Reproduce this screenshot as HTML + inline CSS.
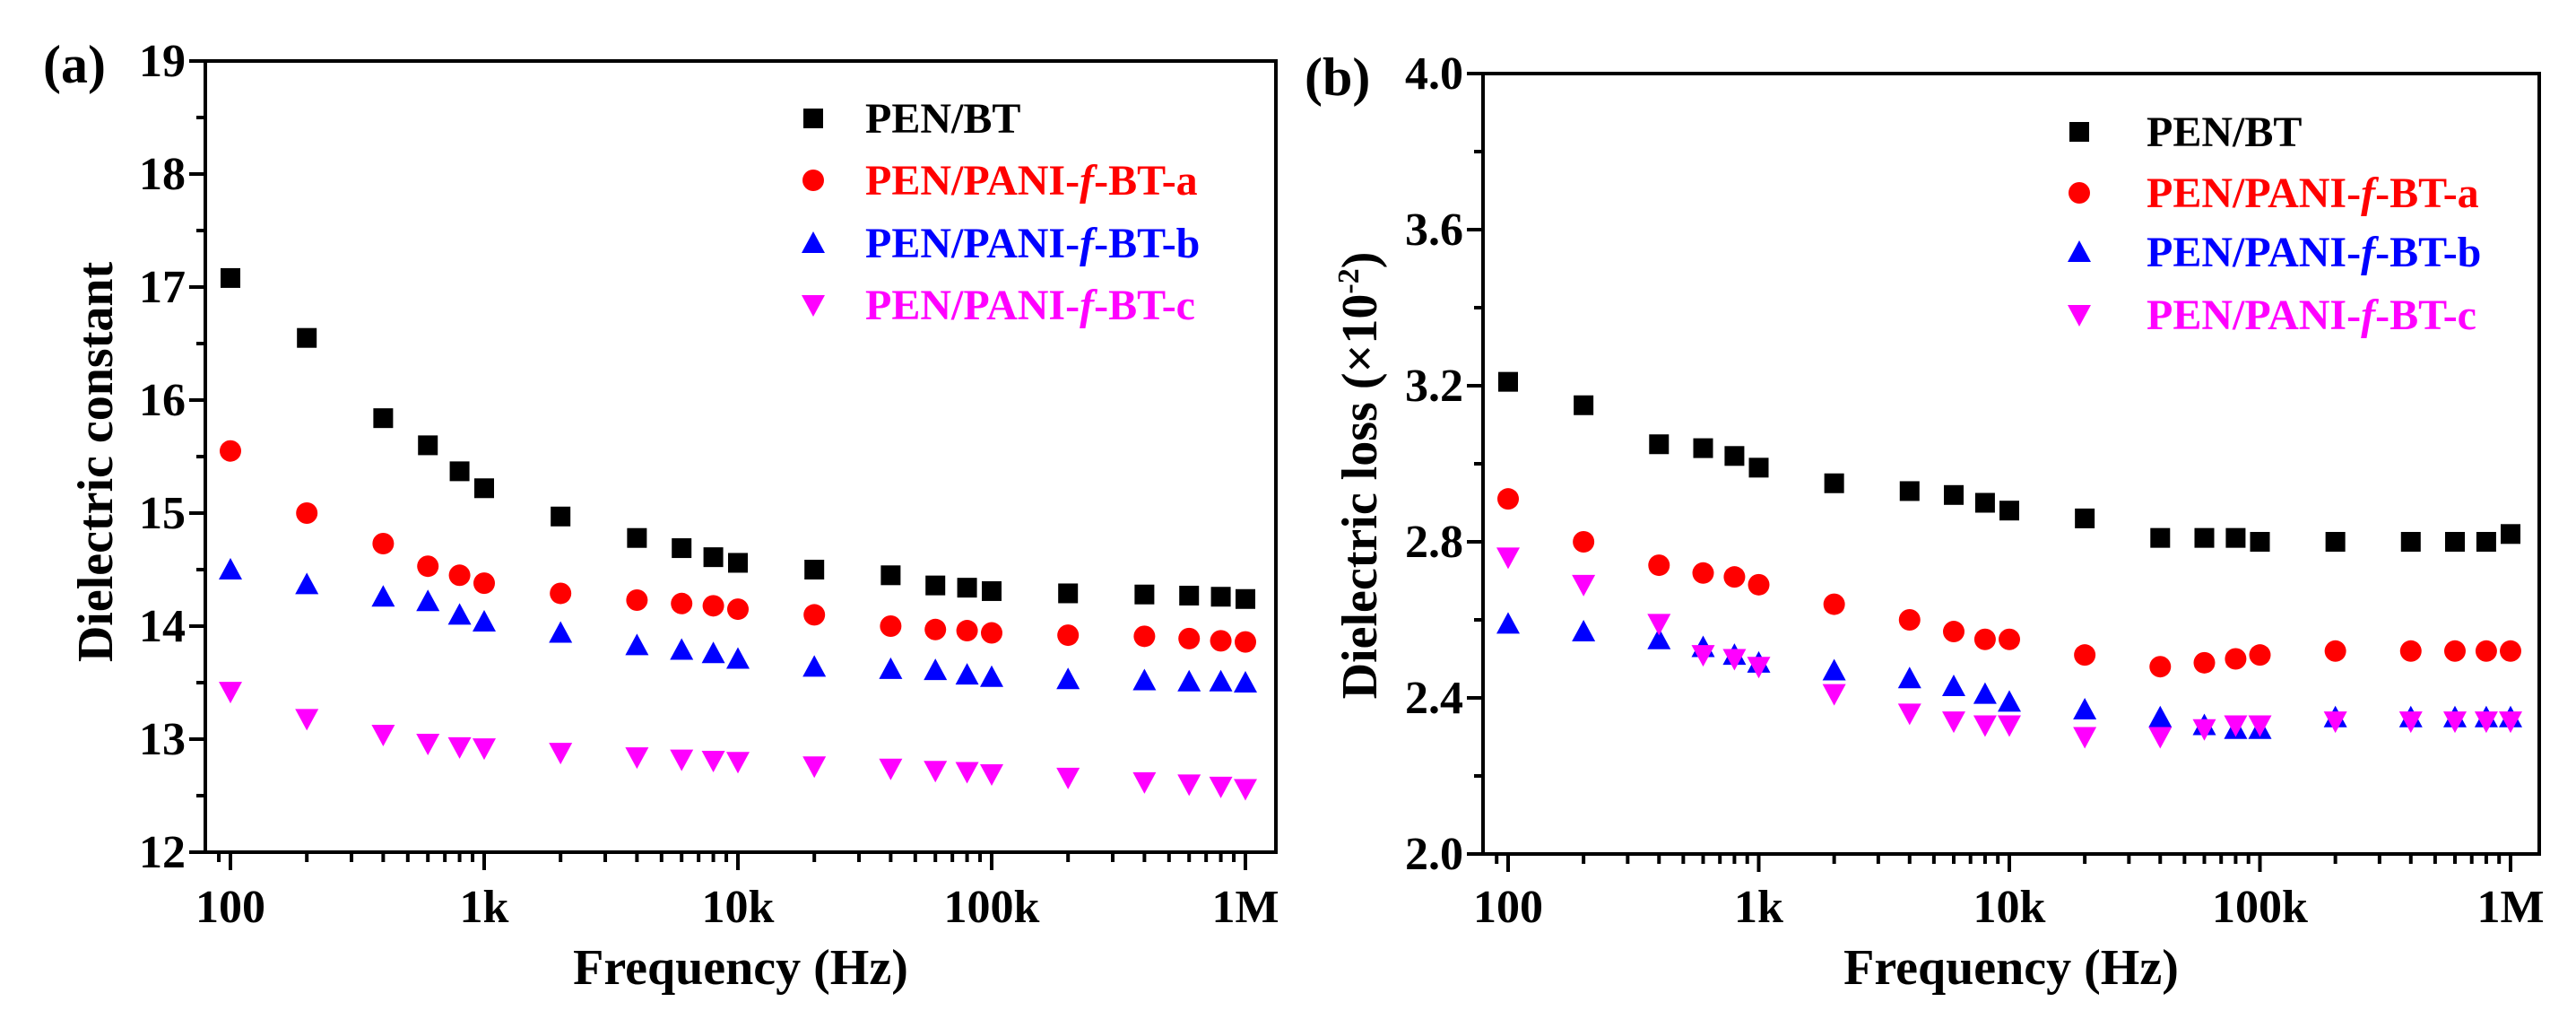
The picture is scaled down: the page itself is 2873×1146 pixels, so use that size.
<!DOCTYPE html>
<html><head><meta charset="utf-8">
<style>
html,body{margin:0;padding:0;background:#fff;}
svg{display:block;}
svg text{font-family:"Liberation Serif","Times New Roman",serif;font-weight:bold;}
</style></head>
<body>
<svg id="chart" width="2873" height="1146" viewBox="0 0 2873 1146" xmlns="http://www.w3.org/2000/svg"></svg>
<script>
const freqs = [100,200,400,600,800,1e3,2e3,4e3,6e3,8e3,1e4,2e4,4e4,6e4,8e4,1e5,2e5,4e5,6e5,8e5,1e6];
const seriesNames = ["PEN/BT","PEN/PANI-f-BT-a","PEN/PANI-f-BT-b","PEN/PANI-f-BT-c"];
const constBT = [17.08,16.55,15.84,15.6,15.37,15.22,14.97,14.78,14.69,14.61,14.56,14.5,14.45,14.36,14.34,14.31,14.29,14.28,14.27,14.26,14.24];
const constA  = [15.55,15.0,14.73,14.53,14.45,14.38,14.29,14.23,14.2,14.18,14.15,14.1,14.0,13.97,13.96,13.94,13.92,13.91,13.89,13.87,13.86];
const constB  = [14.5,14.37,14.26,14.22,14.1,14.04,13.94,13.83,13.79,13.76,13.71,13.64,13.62,13.61,13.57,13.55,13.53,13.52,13.51,13.51,13.5];
const constC  = [13.42,13.18,13.04,12.96,12.93,12.92,12.88,12.84,12.82,12.81,12.8,12.76,12.74,12.72,12.71,12.69,12.66,12.62,12.6,12.58,12.56];
const lossBT = [3.21,3.15,3.05,3.04,3.02,2.99,2.95,2.93,2.92,2.9,2.88,2.86,2.81,2.81,2.81,2.8,2.8,2.8,2.8,2.8,2.82];
const lossA  = [2.91,2.8,2.74,2.72,2.71,2.69,2.64,2.6,2.57,2.55,2.55,2.51,2.48,2.49,2.5,2.51,2.52,2.52,2.52,2.52,2.52];
const lossB  = [2.59,2.57,2.55,2.53,2.51,2.49,2.47,2.45,2.43,2.41,2.39,2.37,2.35,2.33,2.32,2.32,2.35,2.35,2.35,2.35,2.35];
const lossC  = [2.76,2.69,2.59,2.51,2.5,2.48,2.41,2.36,2.34,2.33,2.33,2.3,2.3,2.32,2.33,2.33,2.34,2.34,2.34,2.34,2.34];
const xTickVals = [100,1e3,1e4,1e5,1e6];
const xTickLabels = ["100","1k","10k","100k","1M"];
const yTicksA = [12,13,14,15,16,17,18,19];
const yTicksALabels = ["12","13","14","15","16","17","18","19"];
const yTicksB = [2.0,2.4,2.8,3.2,3.6,4.0];
const yTicksBLabels = ["2.0","2.4","2.8","3.2","3.6","4.0"];

const NS="http://www.w3.org/2000/svg";
const svg=document.getElementById('chart');
const FONT="Liberation Serif, Times New Roman, serif";
function mk(tag,attrs,parent){const e=document.createElementNS(NS,tag);for(const k in attrs)e.setAttribute(k,attrs[k]);if(tag==='text'){e.setAttribute('font-family',FONT);e.setAttribute('font-weight','bold');}(parent||svg).appendChild(e);return e;}
const colors=["#000000","#ff0000","#0000ff","#ff00ff"];
const shapes=["square","circle","up","down"];

function marker(g,shape,x,y,color){
  let e;
  if(shape==="square") e=mk('rect',{x:x-11,y:y-11,width:22,height:22,fill:color},g);
  else if(shape==="circle") e=mk('circle',{cx:x,cy:y,r:12,fill:color},g);
  else if(shape==="up") e=mk('polygon',{points:`${x},${y-13} ${x+13},${y+11} ${x-13},${y+11}`,fill:color},g);
  else e=mk('polygon',{points:`${x},${y+13} ${x+13},${y-11} ${x-13},${y-11}`,fill:color},g);
  return e;
}

function panel(cfg){
  const g=mk('g',{});
  
  
  const {L,R,T,B,x100,dec,ymin,ymax}=cfg;
  const xs=v=>x100+Math.log10(v/100)*dec;
  const ys=v=>B-(v-ymin)/(ymax-ymin)*(B-T);
  const frame=mk('rect',{x:L,y:T,width:R-L,height:B-T,fill:'none',stroke:'#000','stroke-width':4},g);
  
  
  for(let d=10;d<=1e6;d*=10){
    for(let m=1;m<10;m++){
      const v=d*m; if(v<90||v>1e6) continue;
      const x=xs(v); const major=(m===1);
      if(x<L||x>R) continue;
      const t=mk('line',{x1:x,y1:B,x2:x,y2:B+(major?20:11),stroke:'#000','stroke-width':4},g);
      
      
    }
  }
  xTickVals.forEach((v,i)=>{
    const t=mk('text',{x:xs(v),y:1028,'text-anchor':'middle','font-size':52},g);
    t.textContent=xTickLabels[i];
    
    
  });
  cfg.yt.forEach((v,i)=>{
    const y=ys(v);
    const t=mk('line',{x1:L-18,y1:y,x2:L,y2:y,stroke:'#000','stroke-width':4},g);
    
    
    const lb=mk('text',{x:L-22,y:y+17,'text-anchor':'end','font-size':52},g);
    lb.textContent=cfg.ytl[i];
    
    
    if(i<cfg.yt.length-1){
      const ym=ys((v+cfg.yt[i+1])/2);
      const m=mk('line',{x1:L-10,y1:ym,x2:L,y2:ym,stroke:'#000','stroke-width':4},g);
      
      
    }
  });
  cfg.series.forEach((arr,si)=>{
    const sg=mk('g',{},g);
    
    
    arr.forEach((v,i)=>{
      const p=marker(sg,shapes[si],xs(freqs[i]),ys(v),colors[si]);
      
      
    });
  });
  const lg=mk('g',{},g);
  
  
  cfg.legY.forEach((y,i)=>{
    const m=marker(lg,shapes[i],cfg.legMX,y,colors[i]);
    
    
    const t=mk('text',{x:cfg.legTX,y:y+16,'font-size':48,fill:colors[i]},lg);
    if(i===0){t.textContent="PEN/BT";}
    else{
      const a=mk('tspan',{},t);a.textContent="PEN/PANI-";
      const b=mk('tspan',{'font-style':'italic'},t);b.textContent="f";
      const c=mk('tspan',{},t);c.textContent="-BT-"+"abc"[i-1];
    }
    
    
  });
  const xt=mk('text',{x:(L+R)/2,y:1097,'text-anchor':'middle','font-size':56},g);
  xt.textContent="Frequency (Hz)";
  
  
  const yt=mk('text',{x:0,y:0,'text-anchor':'middle','font-size':56,transform:`translate(${cfg.ytX},${cfg.ytY}) rotate(-90)`},g);
  if(cfg.lossTitle){
    const a=mk('tspan',{},yt);a.textContent="Dielectric loss (×10";
    const b=mk('tspan',{'font-size':34,dy:-20},yt);b.textContent="-2";
    const c=mk('tspan',{dy:20},yt);c.textContent=")";
  } else yt.textContent="Dielectric constant";
  
  
  const pl=mk('text',{x:cfg.plX,y:cfg.plY,'font-size':60},g);
  pl.textContent=cfg.label;
  
  
}

panel({name:'panel-a-dielectric-constant',L:229,R:1423,T:68,B:950,x100:257,dec:283,ymin:12,ymax:19,
  yt:yTicksA,ytl:yTicksALabels,series:[constBT,constA,constB,constC],
  legMX:907,legTX:965,legY:[132,201,271,340],ytX:125,ytY:515,label:'(a)',plX:48,plY:92});
panel({name:'panel-b-dielectric-loss',L:1654,R:2832,T:82,B:952,x100:1682,dec:279.5,ymin:2.0,ymax:4.0,
  yt:yTicksB,ytl:yTicksBLabels,series:[lossBT,lossA,lossB,lossC],lossTitle:true,
  legMX:2319,legTX:2394,legY:[147,215,281,351],ytX:1535,ytY:530,label:'(b)',plX:1455,plY:106});
</script>
</body></html>
